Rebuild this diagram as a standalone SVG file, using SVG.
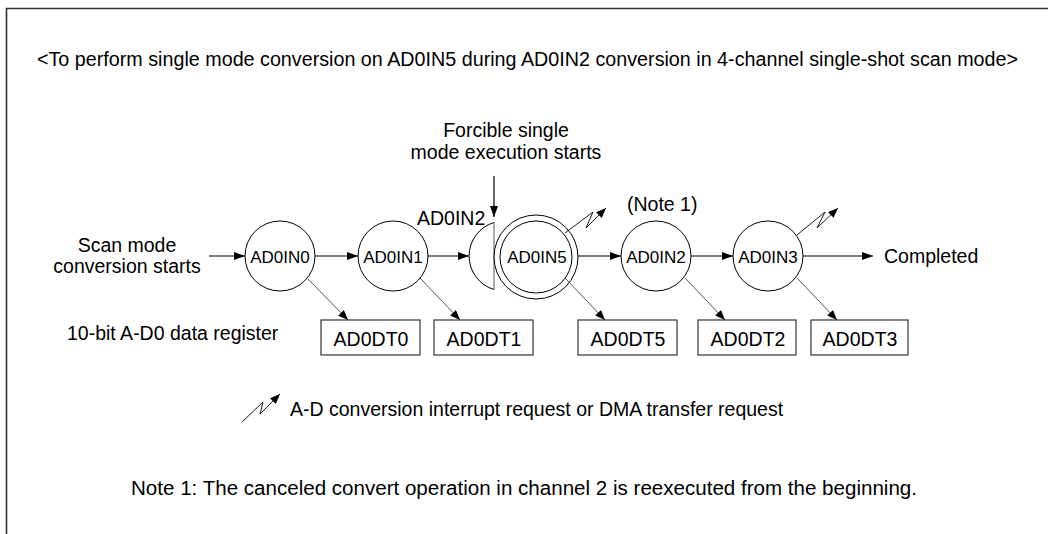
<svg xmlns="http://www.w3.org/2000/svg" width="1048" height="534" viewBox="0 0 1048 534">
<defs>
<marker id="ah" markerWidth="11" markerHeight="8" refX="11" refY="4" orient="auto" markerUnits="userSpaceOnUse"><path d="M0,0 L11,4 L0,8 z" fill="#000"/></marker>
<marker id="ahs" markerWidth="10" markerHeight="8" refX="10" refY="4" orient="auto" markerUnits="userSpaceOnUse"><path d="M0,0 L10,4 L0,8 z" fill="#000"/></marker>
</defs>
<style>
text{font-family:"Liberation Sans",Arial,sans-serif;fill:#000}
.t{font-size:19.5px}
.n{font-size:17px;text-anchor:middle}
.m{text-anchor:middle}
.c{fill:#fff;stroke:#000;stroke-width:1}
.b{fill:#fff;stroke:#333;stroke-width:1.2}
.l{stroke:#000;stroke-width:1.2;fill:none}
.d{stroke:#444;stroke-width:0.9;fill:none}
.z{stroke:#000;stroke-width:0.9;fill:none}
.f{stroke:#333;stroke-width:1.6;fill:none}
</style>
<g id="frame">
<path class="f" d="M6.5,534 L6.5,8.5 L1048,8.5"/>
</g>
<text id="title" class="t" x="37" y="66" textLength="981" lengthAdjust="spacingAndGlyphs">&lt;To perform single mode conversion on AD0IN5 during AD0IN2 conversion in 4-channel single-shot scan mode&gt;</text>
<g id="start-label">
<text class="t m" x="127" y="252">Scan mode</text>
<text class="t m" x="127" y="273">conversion starts</text>
</g>
<text id="reg-label" class="t" x="67" y="340">10-bit A-D0 data register</text>
<g id="forcible-label">
<text class="t m" x="506" y="137">Forcible single</text>
<text class="t m" x="506" y="159">mode execution starts</text>
</g>
<g id="n-ad0in0"><circle class="c" cx="280" cy="256" r="35"/><text class="n" x="280" y="263">AD0IN0</text></g>
<g id="n-ad0in1"><circle class="c" cx="393" cy="256" r="35"/><text class="n" x="393" y="263">AD0IN1</text></g>
<g id="n-ad0in2-cut"><path class="c" d="M494,222.5 A35,35 0 0 0 494,289.5"/><line x1="494" y1="222.5" x2="494" y2="289.5" stroke="#555" stroke-width="1"/><text class="t" x="417" y="225">AD0IN2</text></g>
<g id="n-ad0in5"><circle class="c" cx="536" cy="257" r="42"/><circle class="c" cx="536" cy="257" r="36"/><text class="n" x="537" y="263">AD0IN5</text></g>
<g id="n-ad0in2"><circle class="c" cx="656" cy="256" r="35"/><text class="n" x="656" y="263">AD0IN2</text><text class="t" x="627" y="211">(Note 1)</text></g>
<g id="n-ad0in3"><circle class="c" cx="768" cy="256" r="35"/><text class="n" x="768" y="263">AD0IN3</text></g>
<text id="completed" class="t" x="884" y="263">Completed</text>
<g id="r-ad0dt0"><rect class="b" x="321" y="320" width="99" height="35"/><text class="t m" x="371" y="346">AD0DT0</text></g>
<g id="r-ad0dt1"><rect class="b" x="434" y="320" width="99" height="35"/><text class="t m" x="484" y="346">AD0DT1</text></g>
<g id="r-ad0dt5"><rect class="b" x="578" y="320" width="99" height="35"/><text class="t m" x="628" y="346">AD0DT5</text></g>
<g id="r-ad0dt2"><rect class="b" x="698" y="320" width="98" height="35"/><text class="t m" x="748" y="346">AD0DT2</text></g>
<g id="r-ad0dt3"><rect class="b" x="811" y="320" width="97" height="35"/><text class="t m" x="860" y="346">AD0DT3</text></g>
<g id="connectors">
<line class="l" x1="209" y1="256" x2="245" y2="256" marker-end="url(#ah)"/>
<line class="l" x1="315" y1="256" x2="358" y2="256" marker-end="url(#ah)"/>
<line class="l" x1="428" y1="256" x2="469" y2="256" marker-end="url(#ah)"/>
<line class="l" x1="578" y1="256" x2="621" y2="256" marker-end="url(#ah)"/>
<line class="l" x1="691" y1="256" x2="733" y2="256" marker-end="url(#ah)"/>
<line class="l" x1="803" y1="256" x2="873" y2="256" marker-end="url(#ah)"/>
<line class="l" x1="494" y1="176" x2="494" y2="217" marker-end="url(#ah)"/>
<line class="d" x1="308" y1="279" x2="348" y2="320" marker-end="url(#ahs)"/>
<line class="d" x1="420" y1="278" x2="460" y2="320" marker-end="url(#ahs)"/>
<line class="d" x1="565" y1="278" x2="605" y2="320" marker-end="url(#ahs)"/>
<line class="d" x1="685" y1="278" x2="725" y2="320" marker-end="url(#ahs)"/>
<line class="d" x1="797" y1="278" x2="837" y2="320" marker-end="url(#ahs)"/>
<polyline class="z" points="565,233 593,212 586,228 606,208" marker-end="url(#ahs)"/>
<polyline class="z" points="797,235 825,212 817,228 838,208" marker-end="url(#ahs)"/>
</g>
<g id="legend">
<polyline class="z" points="242,422 263,402 260,414 280,394" marker-end="url(#ahs)"/>
<text class="t" x="290" y="416">A-D conversion interrupt request or DMA transfer request</text>
</g>
<text id="note" class="t" x="131" y="495" textLength="786" lengthAdjust="spacingAndGlyphs">Note 1: The canceled convert operation in channel 2 is reexecuted from the beginning.</text>
</svg>
